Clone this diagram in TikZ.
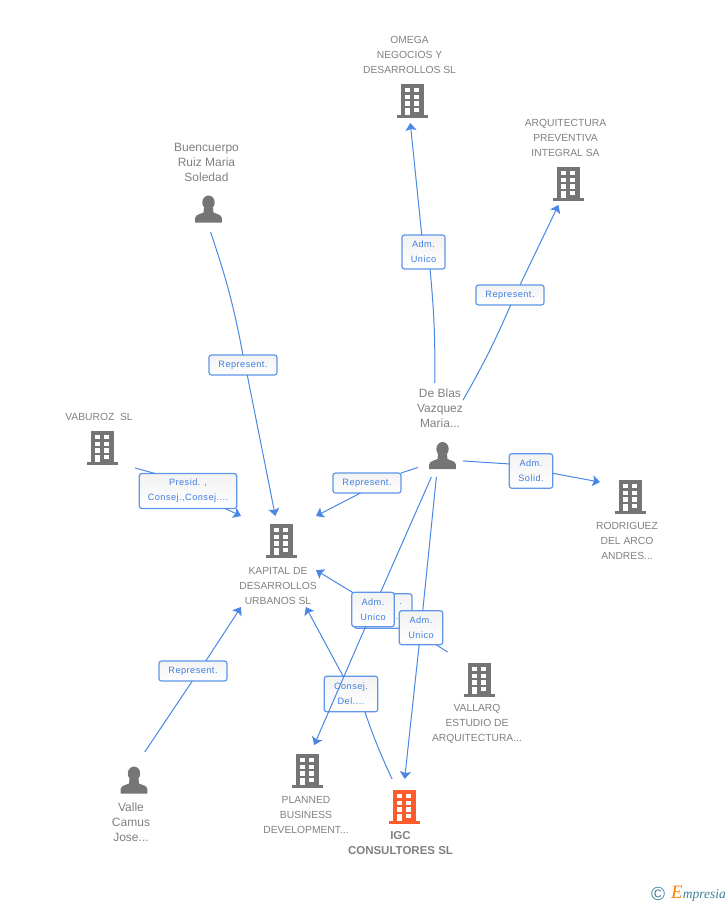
\documentclass[tikz,border=0pt]{standalone}
\usepackage{fontspec}
\setmainfont{Liberation Sans}
\newfontfamily\etiqfont[LetterSpace=5]{Liberation Sans}
\newfontfamily\logofont{Liberation Serif}
\usetikzlibrary{arrows.meta}
\definecolor{gris}{HTML}{757575}
\definecolor{griste}{HTML}{808080}
\definecolor{azul}{HTML}{4A86E4}
\definecolor{azulcaja}{HTML}{5E96E8}
\definecolor{azulte}{HTML}{3F7FE0}
\definecolor{naranja}{HTML}{FF5C2E}
\definecolor{verdelogo}{HTML}{3F7F98}
\tikzset{
  caja/.style={inner sep=0,outer sep=0},
  nombre/.style={text=griste,align=center,inner sep=0,font=\fontsize{10.3}{15}\selectfont},
  etiq/.style={draw=azulcaja,line width=1.2pt,rounded corners=2.5pt,top color=black!5,bottom color=white,
     text=azulte,align=center,inner sep=0,outer sep=0,font=\etiqfont\fontsize{9.2}{15}\selectfont},
  enlace/.style={draw=azul,line width=1pt},
  flecha/.style={enlace,-{Stealth[length=7.5pt,width=11pt,inset=1.5pt]}},
  pics/edificio/.style={code={
    \fill[#1] (-11,-17) rectangle (11.5,14);
    \fill[#1] (-15.5,14) rectangle (16,17);
    \foreach \f in {-13,-6.4,0.3}
      {\fill[white] (-7,\f) rectangle (-2,\f+4.3);
       \fill[white] (2.3,\f) rectangle (7.3,\f+4.3);};
    \fill[white] (2.3,7) rectangle (7.3,11.3);
    \fill[white] (-7,7) rectangle (-2.5,14);
  }},
  pics/edificio/.default=gris,
  pics/persona/.style={code={
    \fill[gris] (0,-7) ellipse [x radius=6.2pt,y radius=7pt];
    \fill[gris] (-13.3,13) -- (-13.3,8.5) .. controls (-13,5) and (-8,4.5) .. (-5,3)
       -- (-4.5,-2) -- (4.5,-2) -- (5,3) .. controls (8,4.5) and (13,5) .. (13.3,8.5)
       -- (13.3,13) -- cycle;
  }},
}
\begin{document}
\begin{tikzpicture}[x=1pt,y=-1pt]
\useasboundingbox (0,0) rectangle (728,905);
\foreach \n/\x/\y/\w/\h in {omega/409.5/78/93/90, arquitectura/565.5/160.5/79/89,
    buencuerpo/206.5/186/69/92, vaburoz/99.5/439.5/71/57, deblas/440.5/430/45/94,
    rodriguez/630/520.5/60/85, kapital/278.5/561.5/75/91, vallarq/477/699/88/94,
    valle/134/798.5/48/93, planned/306/791.5/84/93, igc/400.5/818.5/105/79}
  \node[caja,minimum width=\w pt,minimum height=\h pt] (\n) at (\x,\y) {};
\foreach \x/\y in {412/101, 568/184, 102/448, 630/497, 281/541, 479/680, 307/771}
  \pic at (\x,\y) {edificio};
\pic at (404,807) {edificio=naranja};
\foreach \x/\y in {208.5/209.5, 442.5/456, 134/780.5}
  \pic at (\x,\y) {persona};
\foreach \n/\x/\y/\t in {omega/409.5/55/{OMEGA\\NEGOCIOS Y\\DESARROLLOS SL},
    arquitectura/565.5/138/{ARQUITECTURA\\PREVENTIVA\\INTEGRAL SA},
    vaburoz/99/417/{VABUROZ~ SL},
    rodriguez/627/541/{RODRIGUEZ\\DEL ARCO\\ANDRES...},
    kapital/278/586/{KAPITAL DE\\DESARROLLOS\\URBANOS SL},
    vallarq/477/724/{VALLARQ\\ESTUDIO DE\\ARQUITECTURA...},
    planned/306/815/{PLANNED\\BUSINESS\\DEVELOPMENT...}}
  \node[nombre] (\n T) at (\x,\y) {\t};
\foreach \n/\x/\y/\t in {buencuerpo/206.5/162/{Buencuerpo\\Ruiz Maria\\Soledad},
    deblas/440/408/{De Blas\\Vazquez\\Maria...},
    valle/131/822/{Valle\\Camus\\Jose...}}
  \node[nombre,font=\fontsize{12}{15}\selectfont] (\n T) at (\x,\y) {\t};
\node[nombre,font=\fontsize{11.5}{15}\selectfont\bfseries] (igcT) at (400.5,843.5) {IGC\\CONSULTORES SL};
\node[etiq,minimum width=58pt,minimum height=34.5pt] (lbVallarq) at (383,611) {};
\node[text=azulte,inner sep=0,font=\etiqfont\fontsize{9}{9}\selectfont] (lbPuntoA) at (400.7,604) {.};
\node[text=azulte,inner sep=0,font=\etiqfont\fontsize{9}{9}\selectfont] (lbPuntoB) at (397,619) {.};
\draw[enlace] (vallarq.122.6) -- (lbVallarq);
\draw[flecha] (lbVallarq) -- (kapital.347.2);
\foreach \n/\x/\y/\w/\h/\t in {lbBuen/243/365/68/20/{Represent.}, lbDeblas/367/483/68/20/{Represent.},
    lbValle/193/671/68/20/{Represent.}, lbArq/510/295/68/20/{Represent.},
    lbOmega/423.5/252/43/34/{Adm.\\Unico}, lbRod/531/471/43.5/34.5/{Adm.\\Solid.},
    lbVab/188/491/97.5/35/{Presid. ,\\Consej.,Consej....},
    lbIgc/351/694/53.5/35.5/{Consej.\\Del....},
    lbPlanned/373/609.5/42.5/34.5/{Adm.\\Unico}, lbIgcB/421/627.7/43.5/34/{Adm.\\Unico}}
  \node[etiq,minimum width=\w pt,minimum height=\h pt] (\n) at (\x,\y) {\t};
\draw[enlace] (buencuerpo.275.6) to[bend left=4] (lbBuen.north);
\draw[flecha] (lbBuen.293) -- (kapital.94.4);
\draw[enlace] (vaburoz.south east) -- (lbVab.152);
\draw[flecha] (lbVab) -- (kapital.north west);
\draw[enlace] (deblas.239.4) -- (lbDeblas.north east);
\draw[flecha] (lbDeblas.237.8) -- (kapital.north east);
\draw[enlace] (valle.77.9) -- (lbValle.266);
\draw[flecha] (lbValle.38.2) -- (kapital.south west);
\draw[enlace] (deblas.97.9) to[bend right=3] (lbOmega.291);
\draw[flecha] (lbOmega) -- (omega.271.9);
\draw[enlace] (deblas.53.1) to[bend right=3] (lbArq.274);
\draw[flecha] (lbArq.45) -- (arquitectura.261.7);
\draw[enlace] (deblas.306) -- (lbRod.162.2);
\draw[flecha] (lbRod.354) -- (rodriguez.128.7);
\draw[enlace] (deblas.259.75) -- (lbPlanned);
\draw[flecha] (lbPlanned) -- (planned.80.2);
\draw[enlace] (deblas.265.7) -- (lbIgcB);
\draw[flecha] (lbIgcB) -- (igc.84.9);
\draw[enlace] (igc.102.1) to[bend left=3] (lbIgc.308.3);
\draw[flecha] (lbIgc.114) -- (kapital.301.2);
\node[text=verdelogo,inner sep=0,font=\fontsize{19}{19}\selectfont] (logoC) at (658,894) {\textcopyright};
\node[text=verdelogo,inner sep=0,anchor=west,font=\logofont\itshape\fontsize{13.5}{14}\selectfont] (logoT) at (671,894)
  {\textcolor{orange}{\fontsize{19}{19}\selectfont E}mpresia};
\end{tikzpicture}
\end{document}
